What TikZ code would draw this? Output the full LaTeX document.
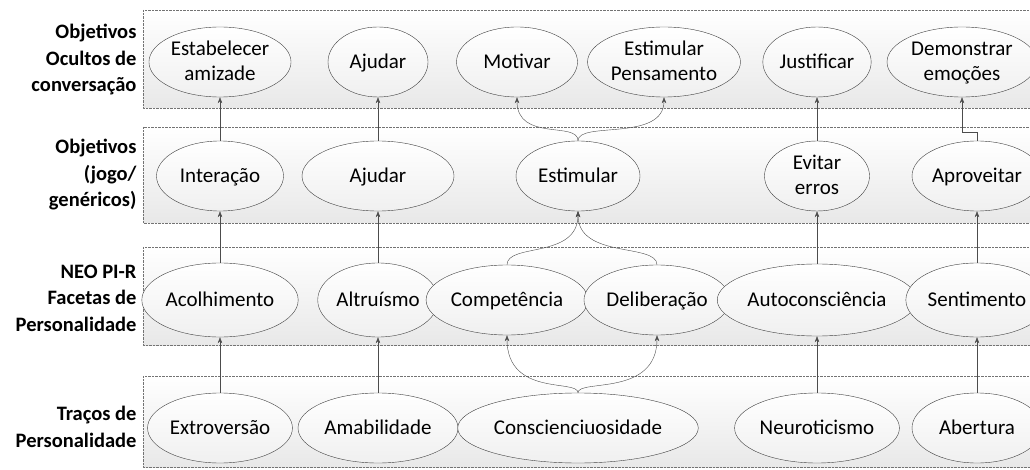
\documentclass[tikz,border=0pt]{standalone}
\usepackage{fontspec}
\setmainfont{Carlito}
\usetikzlibrary{shapes.geometric,arrows.meta}

\begin{document}
\begin{tikzpicture}[x=1pt, y=-1pt,
  elip/.style={ellipse, draw=black!75, top color=white, bottom color=black!6,
    minimum height=70, inner sep=1pt, align=center, text height=16pt, text depth=3pt,
    font=\fontsize{21}{25}\selectfont},
  duas/.style={text height=41pt, text depth=3pt},
  camada/.style={draw=black!55, densely dotted, top color=white, bottom color=black!9},
  rotulo/.style={anchor=east, align=right, font=\bfseries\fontsize{20.5}{26.5}\selectfont},
  seta/.style={draw=black!70, -{Stealth[length=6pt,width=4.5pt]}}]
  \clip (0,0) rectangle (1030,470);

  % Camadas
  \draw[camada] (143,10)  rectangle (1045,108);
  \draw[camada] (143,127) rectangle (1045,223);
  \draw[camada] (143,247) rectangle (1045,345);
  \draw[camada] (143,376) rectangle (1045,467);

  \node[rotulo] (l1) at (140,60)  {Objetivos\\Ocultos de\\conversação};
  \node[rotulo] (l2) at (140,175) {Objetivos\\(jogo/\\genéricos)};
  \node[rotulo] (l3) at (140,298) {NEO PI-R\\Facetas de\\Personalidade};
  \node[rotulo] (l4) at (140,427) {Traços de\\Personalidade};

  % Objetivos ocultos
  \draw (220,62) node(est)  [elip, duas, minimum width=131] {Estabelecer\\amizade};
  \draw (378,62) node(aj1)  [elip, minimum width=100] {Ajudar};
  \draw (517,62) node(mot)  [elip, minimum width=121] {Motivar};
  \draw (664,62) node(estp) [elip, duas, minimum width=147] {Estimular\\Pensamento};
  \draw (817,62) node(jus)  [elip, minimum width=102] {Justificar};
  \draw (962,62) node(dem)  [elip, duas, minimum width=150] {Demonstrar\\emoções};

  % Objetivos jogo
  \draw (220,176) node(int)  [elip, minimum width=127] {Interação};
  \draw (378,176) node(aj2)  [elip, minimum width=152] {Ajudar};
  \draw (578,176) node(stim) [elip, minimum width=124] {Estimular};
  \draw (817,176) node(evi)  [elip, duas, minimum width=105] {Evitar\\erros};
  \draw (977,176) node(apr)  [elip, minimum width=130] {Aproveitar};

  % Facetas
  \draw (220,300) node(aco)  [elip, minimum width=140, minimum height=74] {Acolhimento};
  \draw (378,300) node(alt)  [elip, minimum width=118, minimum height=74] {Altruísmo};
  \draw (507,300) node(comp) [elip, minimum width=141, minimum height=70] {Competência};
  \draw (657,300) node(del)  [elip, minimum width=145, minimum height=70] {Deliberação};
  \draw (817,300) node(auto) [elip, minimum width=169, minimum height=72] {Autoconsciência};
  \draw (977,300) node(sent) [elip, minimum width=130, minimum height=74] {Sentimento};

  % Tracos
  \draw (220,428) node(ext)  [elip, minimum width=136] {Extroversão};
  \draw (378,428) node(ama)  [elip, minimum width=160] {Amabilidade};
  \draw (578,428) node(cons) [elip, minimum width=211] {Conscienciuosidade};
  \draw (817,428) node(neu)  [elip, minimum width=154] {Neuroticismo};
  \draw (977,428) node(abe)  [elip, minimum width=130] {Abertura};

  % Ligacoes
  \draw[seta] (ext) -- (aco);
  \draw[seta] (aco) -- (int);
  \draw[seta] (int) -- (est);
  \draw[seta] (ama) -- (alt);
  \draw[seta] (alt) -- (aj2);
  \draw[seta] (aj2) -- (aj1);
  \draw[seta] (cons.north) .. controls +(0,-14) and +(0,62) .. (comp.south);
  \draw[seta] (cons.north) .. controls +(0,-14) and +(0,62) .. (del.south);
  \draw[seta] (comp.north) .. controls +(0,-22) and +(0,48) .. (stim.south);
  \draw[seta] (del.north)  .. controls +(0,-22) and +(0,48) .. (stim.south);
  \draw[seta] (stim.north) .. controls +(0,-20) and +(0,45) .. (mot.south);
  \draw[seta] (stim.north) .. controls +(0,-20) and +(0,45) .. (estp.south);
  \draw[seta] (neu) -- (auto);
  \draw[seta] (auto) -- (evi);
  \draw[seta] (evi) -- (jus);
  \draw[seta] (abe) -- (sent);
  \draw[seta] (sent) -- (apr);
  \draw[seta] (apr.north) -- ++(0,-9) -| (dem.south);

\end{tikzpicture}
\end{document}
